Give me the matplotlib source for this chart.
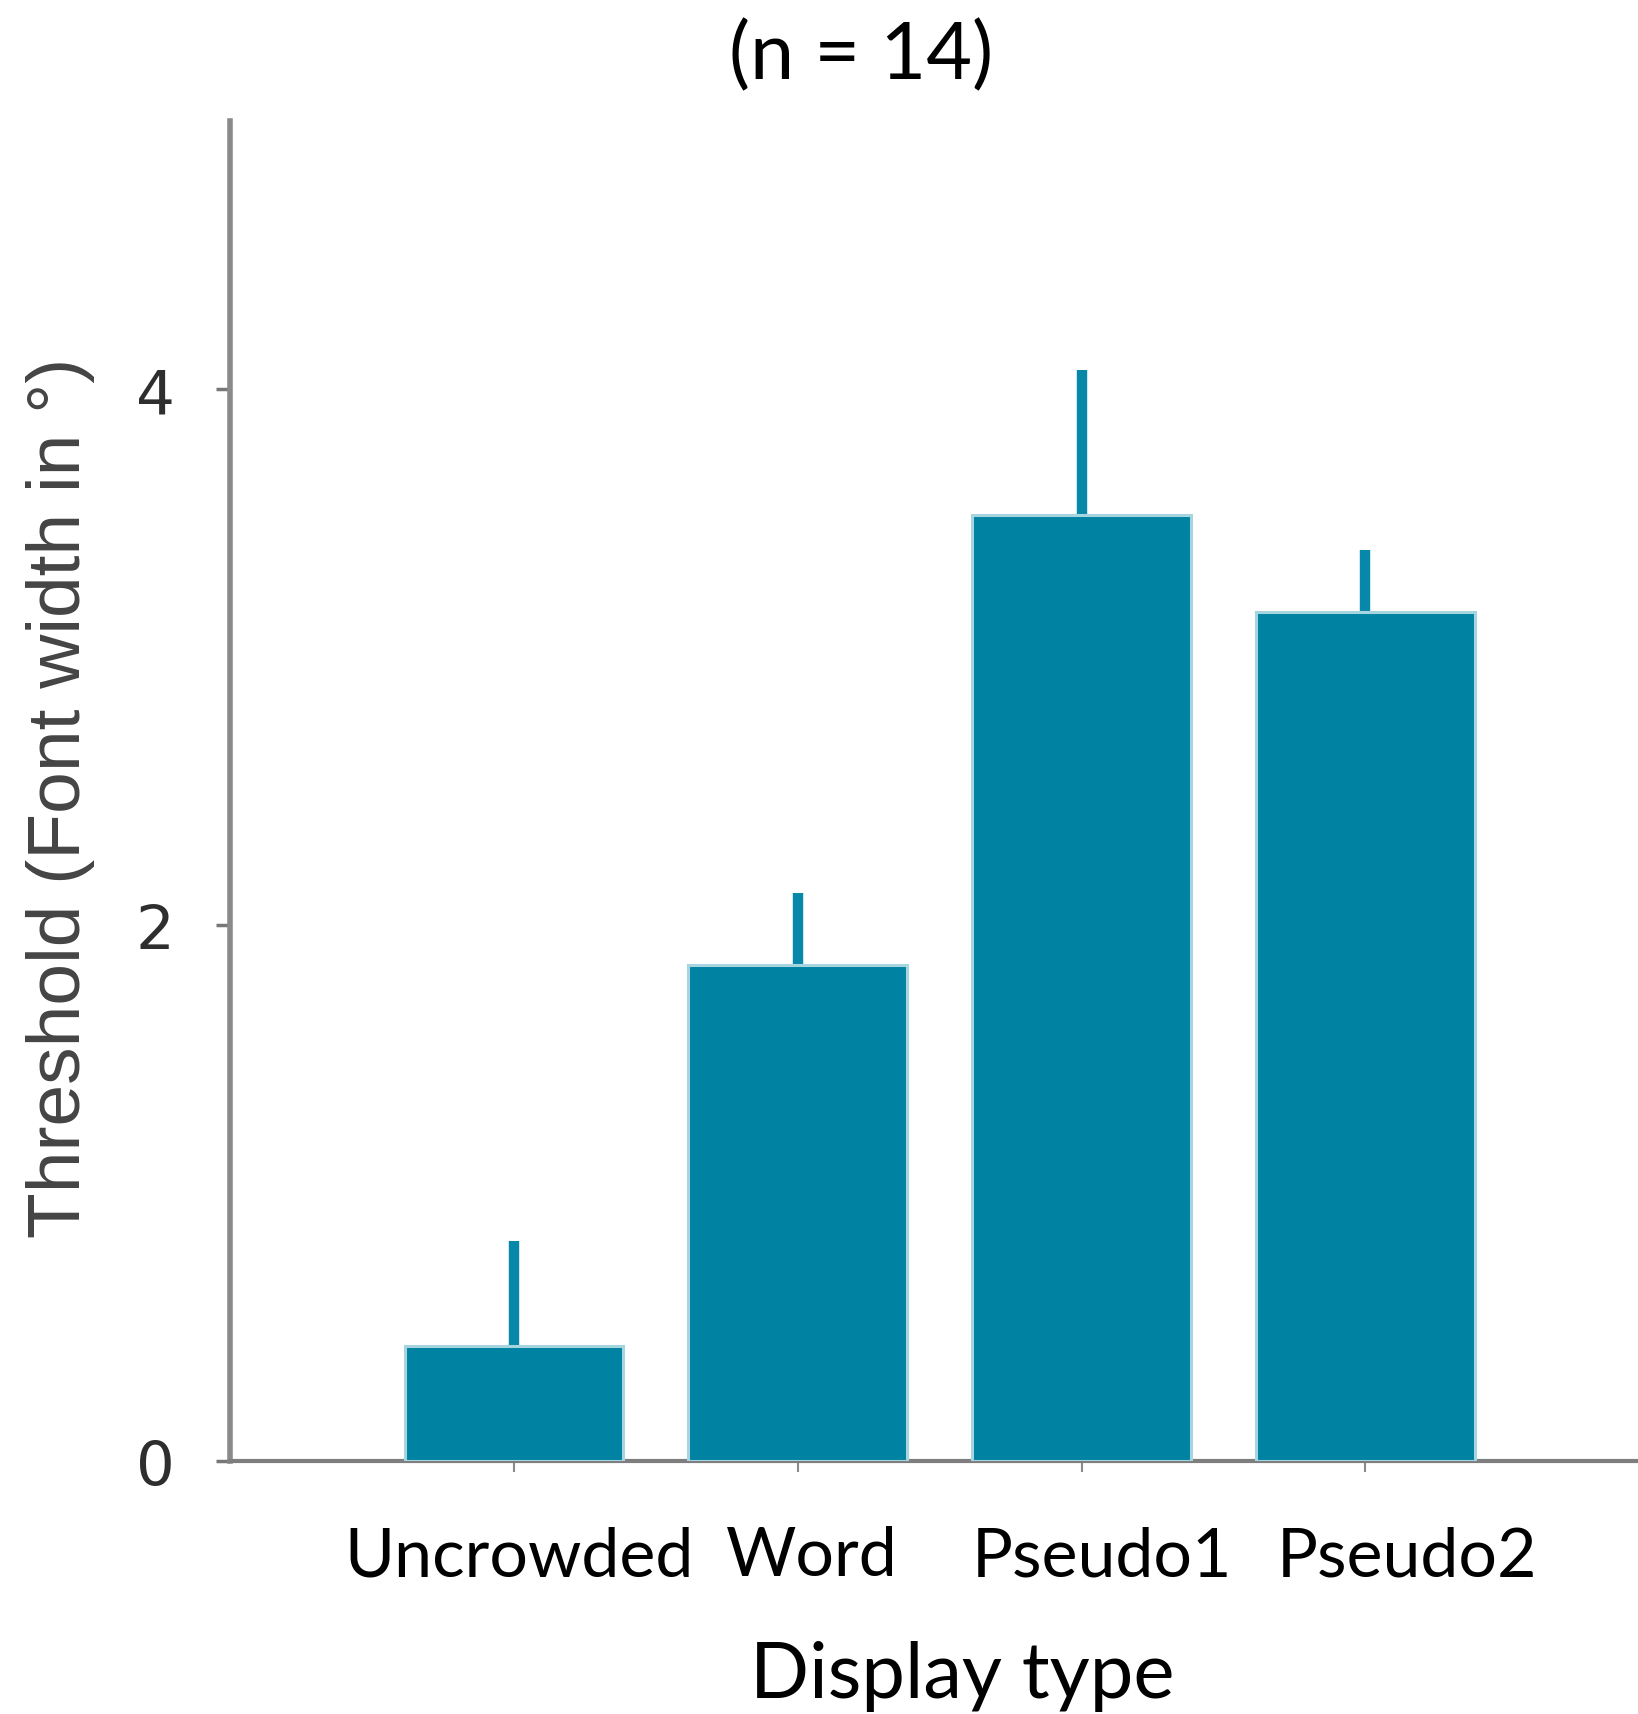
import matplotlib
matplotlib.use("Agg")
import matplotlib.pyplot as plt
from matplotlib import font_manager
from matplotlib.transforms import blended_transform_factory

# data
conditions = ["Uncrowded", "Word", "Pseudo1", "Pseudo2"]
means = [0.43, 1.85, 3.53, 3.17]
errors = [0.39, 0.27, 0.54, 0.23]
y_ticks = [0, 2, 4]

title_text = "(n = 14)"
x_title = "Display type"
y_title = "Threshold (Font width in \u00b0)"

# small horizontal nudges of the category labels (data units)
label_nudge = [0.02, 0.05, 0.073, 0.147]

bar_color = "#0083a3"
edge_color = "#a6d4df"


def narrow_font():
	try:
		font_manager.findfont("Liberation Sans Narrow", fallback_to_default=False)
		return "Liberation Sans Narrow", 64
	except Exception:
		return "Liberation Sans", 54


def main():
	fig = plt.figure(figsize=(16.38, 17.15), dpi=100)
	ax = fig.add_axes([0.1404, 0.1475, 0.8596, 0.7813])

	x = list(range(1, len(conditions) + 1))
	ax.errorbar(x, means, yerr=[[0] * len(errors), errors], fmt='none',
		ecolor="#0788a8", elinewidth=7.5, capsize=0, zorder=2.8)
	ax.bar(x, means, width=0.77, color=bar_color, edgecolor=edge_color,
		linewidth=2.2, zorder=3)

	ax.set_xlim(0, 4.96)
	ax.set_ylim(0, 5)

	for side in ['top', 'right']:
		ax.spines[side].set_visible(False)
	ax.spines['left'].set_color('#8a8a8a')
	ax.spines['left'].set_linewidth(4)
	ax.spines['bottom'].set_color('#7e7e7e')
	ax.spines['bottom'].set_linewidth(3)

	ax.set_yticks(y_ticks)
	ax.set_yticklabels([str(t) for t in y_ticks], fontsize=44,
		family='DejaVu Sans', color='#2e2e2e')
	ax.tick_params(axis='y', direction='out', length=10, width=2.5,
		color='#777777', pad=30)

	ax.set_xticks(x)
	ax.set_xticklabels([])
	ax.tick_params(axis='x', direction='out', length=8, width=1.5,
		color='#8a8a8a', pad=4)

	trans = blended_transform_factory(ax.transData, ax.transAxes)
	for xi, name, dx in zip(x, conditions, label_nudge):
		ax.text(xi + dx, -0.0851, name, transform=trans, ha='center',
			va='baseline', fontsize=49, family='Lato', color='black')

	ax.text(0.52, -0.176, x_title, transform=ax.transAxes, ha='center',
		va='baseline', fontsize=56, family='Lato', color='black')

	fam, size = narrow_font()
	ax.set_ylabel(y_title, fontsize=size, family=fam, color='#444444',
		va='center')
	ax.yaxis.set_label_coords(-0.1207, 0.4955)

	ax.set_title(title_text, fontsize=57, family='Lato', x=0.448, y=1.0426,
		va='center')

	fig.savefig("out.png", dpi=100)


if __name__ == '__main__':
	main()
